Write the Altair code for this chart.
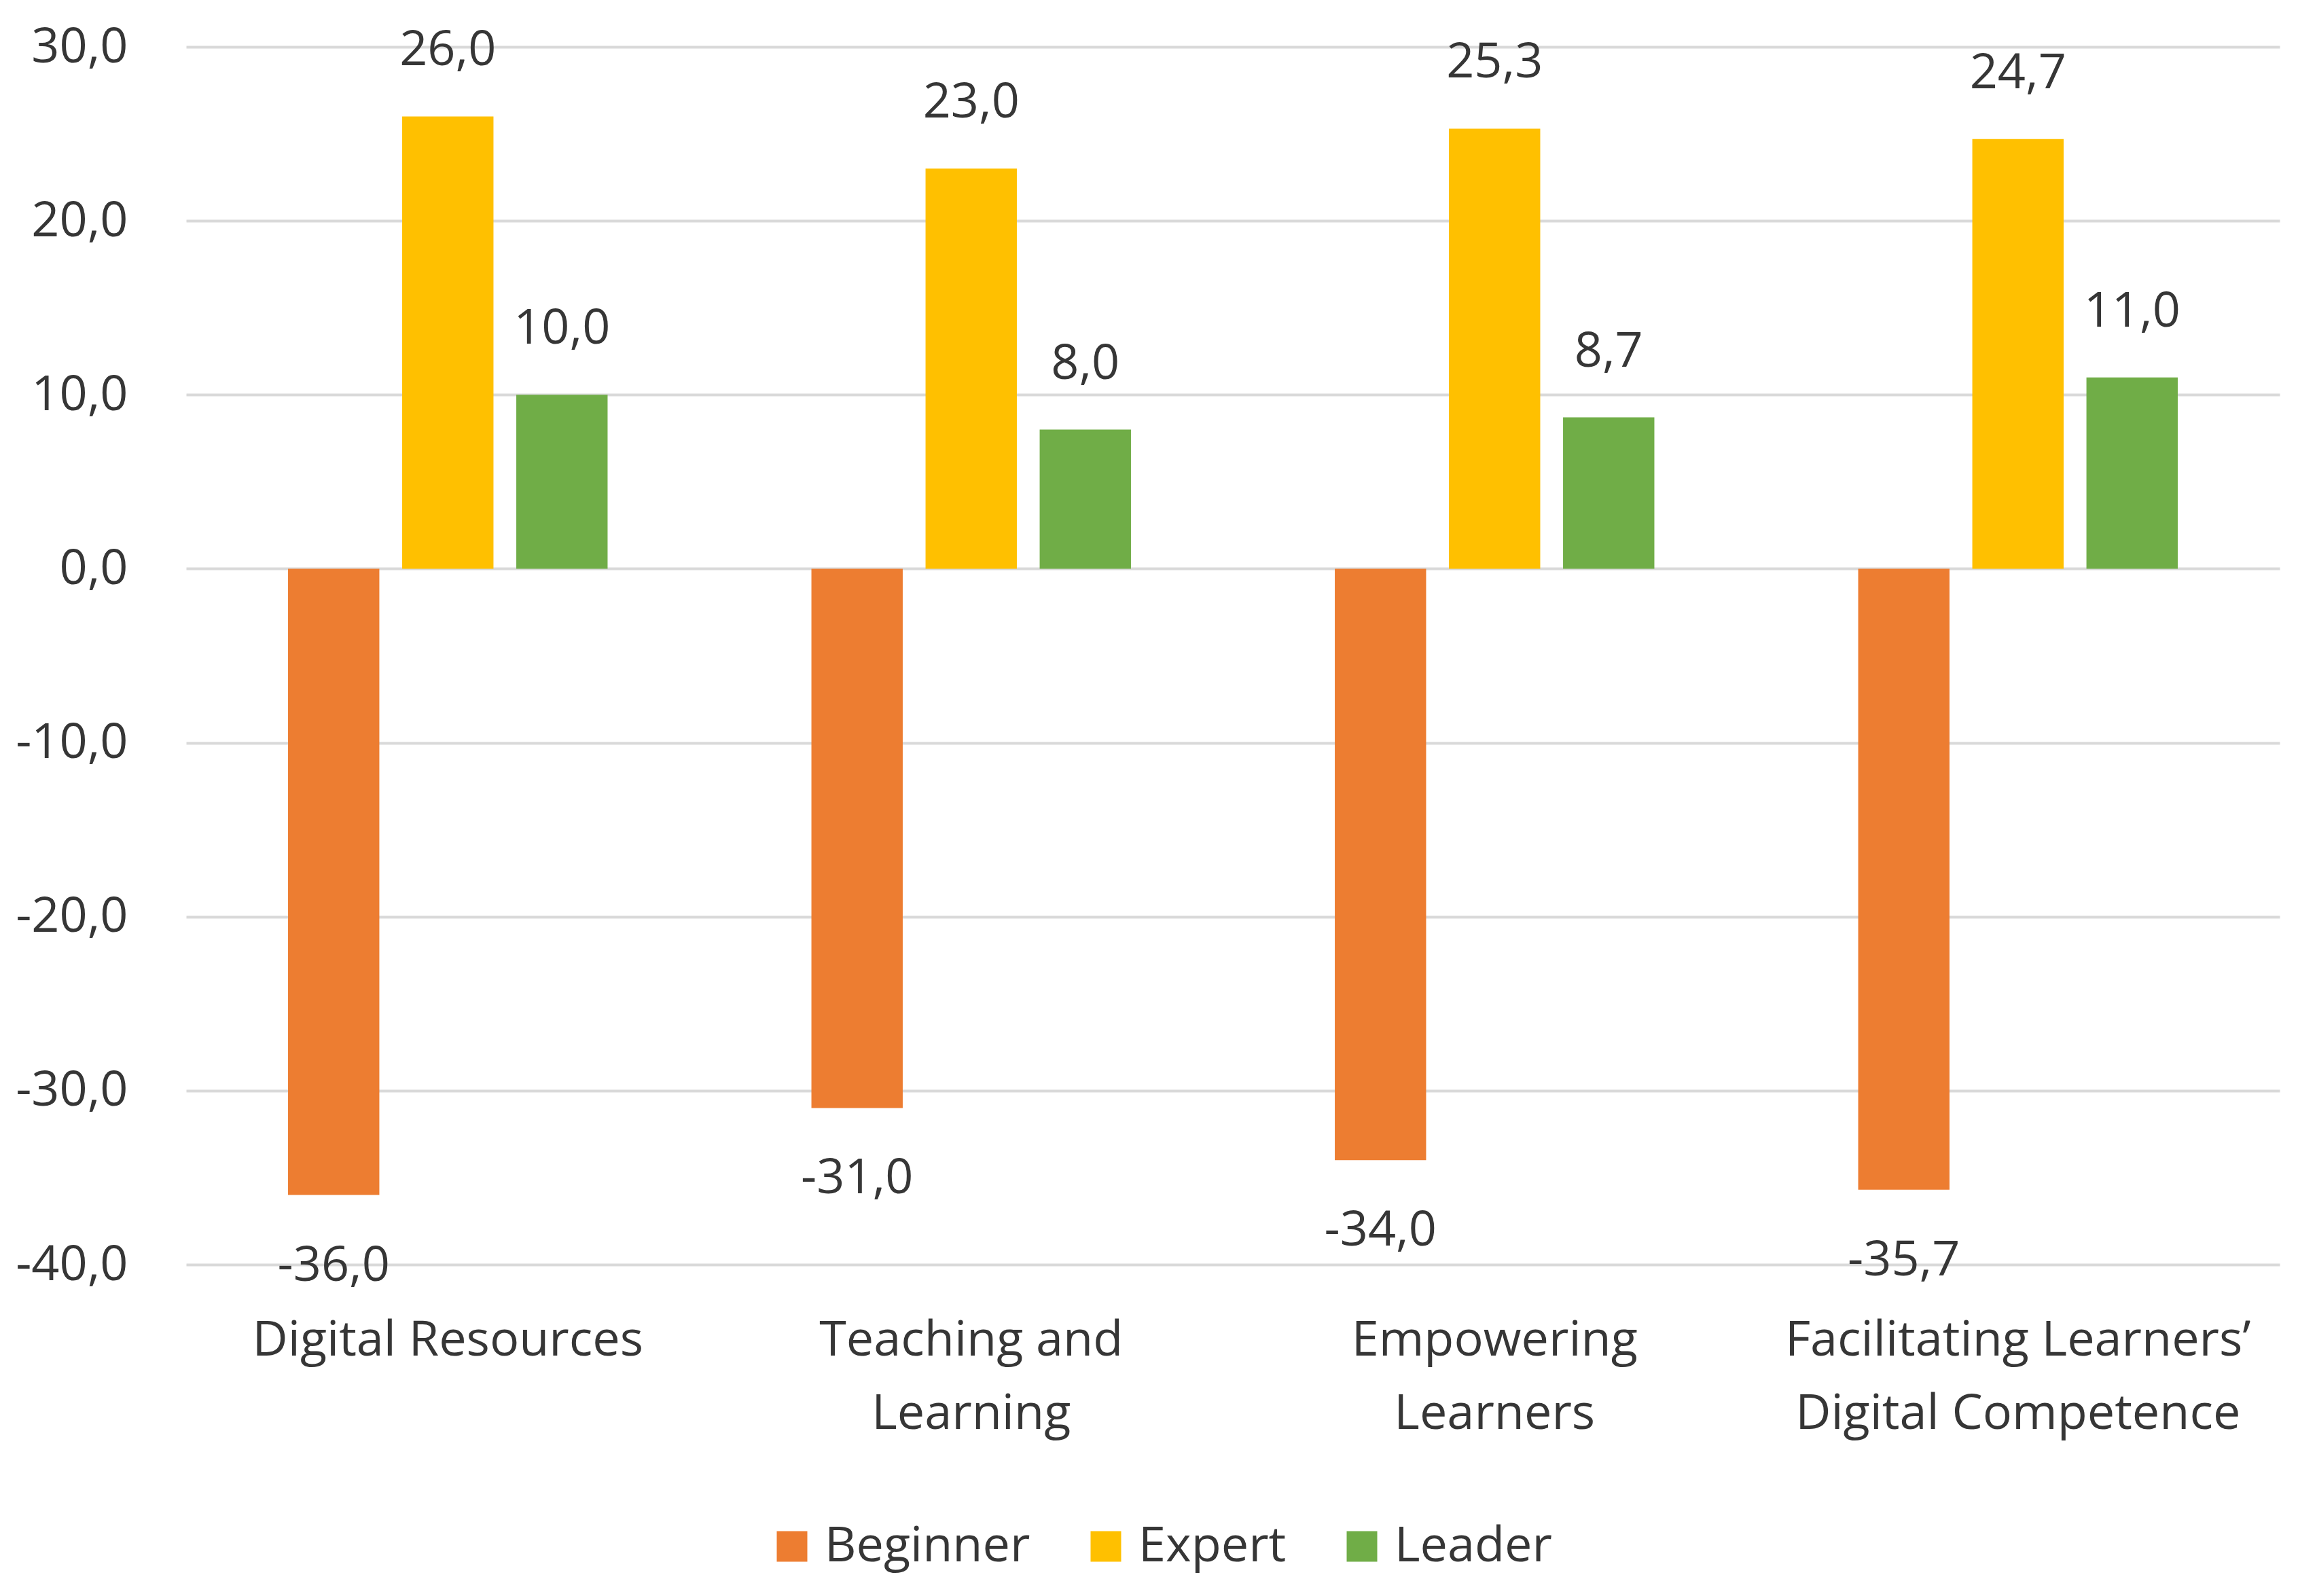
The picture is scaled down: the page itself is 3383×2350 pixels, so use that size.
import altair as alt
import pandas as pd

categories = ["Digital Resources", "Teaching and Learning", "Empowering Learners",
              "Facilitating Learners’ Digital Competence"]
label_lines = [["Digital Resources"], ["Teaching and", "Learning"], ["Empowering", "Learners"],
               ["Facilitating Learners’", "Digital Competence"]]
series = ["Beginner", "Expert", "Leader"]
beginner = [-36.0, -31.0, -34.0, -35.7]
expert = [26.0, 23.0, 25.3, 24.7]
leader = [10.0, 8.0, 8.7, 11.0]
colors = ["#ED7D31", "#FFC000", "#70AD47"]
y_ticks = [30, 20, 10, 0, -10, -20, -30, -40]

rows = []
for s, vals in zip(series, [beginner, expert, leader]):
    for c, v in zip(categories, vals):
        rows.append({"category": c, "series": s, "value": v,
                     "label": f"{v:.1f}".replace(".", ",")})
df = pd.DataFrame(rows)

FONT = "Open Sans"
FS = 72
TXT = "#363636"

# label expression for multi-line category labels
parts = []
for c, lines in zip(categories, label_lines):
    arr = "[" + ",".join("'" + l + "'" for l in lines) + "]"
    parts.append(f"datum.label == '{c}' ? {arr}")
label_expr = " : ".join(parts) + " : datum.label"

x = alt.X("category:N", sort=categories, title=None,
          scale=alt.Scale(paddingInner=0, paddingOuter=0),
          axis=alt.Axis(labelExpr=label_expr, labelAngle=0, ticks=False, domain=False,
                        grid=False, labelPadding=76, labelFontSize=FS, labelFont=FONT,
                        labelColor=TXT, labelLineHeight=108, labelLimit=0))
xo = alt.XOffset("series:N", sort=series,
                 scale=alt.Scale(domain=series, paddingInner=0.2, paddingOuter=0.893))
y = alt.Y("value:Q", title=None,
          scale=alt.Scale(domain=[-40, 30], nice=False, zero=False),
          axis=alt.Axis(values=y_ticks, domain=False, ticks=False, grid=True,
                        gridColor="#D9D9D9", gridWidth=4,
                        labelExpr="(datum.value < 0 ? '-' : '') + replace(format(abs(datum.value), '.1f'), '.', ',')",
                        labelPadding=86, labelFontSize=FS, labelFont=FONT, labelColor=TXT))
color = alt.Color("series:N", sort=series,
                  scale=alt.Scale(domain=series, range=colors),
                  legend=alt.Legend(title=None, orient="none", direction="horizontal",
                                    legendX=856, legendY=2172, symbolType="square",
                                    symbolSize=2025, symbolStrokeWidth=0, labelFont=FONT,
                                    labelFontSize=FS, labelColor=TXT, labelOffset=12,
                                    labelLimit=0, columnPadding=75, padding=0))

base = alt.Chart(df)
bars = base.mark_bar().encode(x=x, xOffset=xo, y=y, color=color)
pos = base.transform_filter("datum.value >= 0").mark_text(
    font=FONT, fontSize=FS, color=TXT, baseline="alphabetic", dy=-75
).encode(x=x, xOffset=xo, y=y, text="label:N")
neg = base.transform_filter("datum.value < 0").mark_text(
    font=FONT, fontSize=FS, color=TXT, baseline="alphabetic", dy=126
).encode(x=x, xOffset=xo, y=y, text="label:N")

chart = alt.layer(bars, pos, neg).properties(
    width=3082, height=1793,
    autosize=alt.AutoSizeParams(type="none"),
    padding={"left": 266, "top": 61, "right": 10, "bottom": 470},
    background="white",
).configure_view(stroke=None)

chart.save("out.html", embed_options={"renderer": "svg", "actions": False})
